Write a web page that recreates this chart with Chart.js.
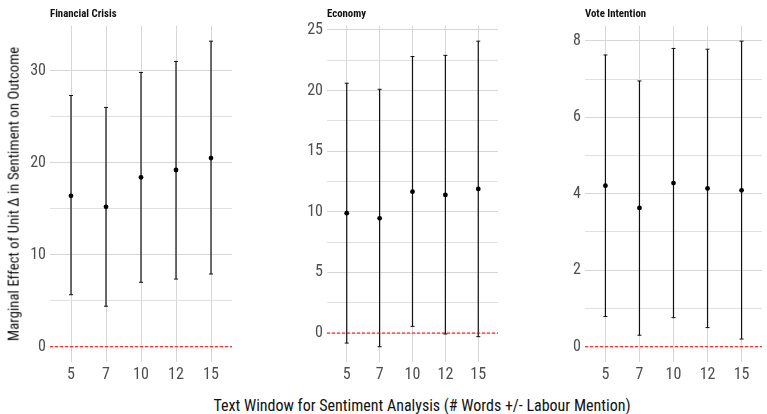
<!DOCTYPE html>
<html>
<head>
<meta charset="utf-8">
<script src="https://cdn.jsdelivr.net/npm/chart.js@4/dist/chart.umd.min.js"></script>
<style>
  html, body { margin: 0; padding: 0; background: #fff; }
  body { width: 767px; height: 414px; position: relative; overflow: hidden;
         font-family: 'Roboto Condensed', 'Liberation Sans Narrow', Roboto, sans-serif; }
  canvas.panel { position: absolute; top: 0; }
  .ytitle { position: absolute; left: 14px; top: 194px; width: max-content;
            transform: translate(-50%, -50%) rotate(-90deg);
            white-space: nowrap; font-size: 14.8px; line-height: 1; color: #111; }
  .xtitle { position: absolute; left: 422px; top: 406px; width: max-content;
            transform: translate(-50%, -50%);
            white-space: nowrap; font-size: 16px; line-height: 1; color: #111; }
</style>
</head>
<body>
<canvas id="p0" class="panel" width="215" height="385" style="left:22px"></canvas>
<canvas id="p1" class="panel" width="203" height="385" style="left:300px"></canvas>
<canvas id="p2" class="panel" width="207" height="385" style="left:560px"></canvas>
<div class="ytitle">Marginal Effect of Unit Δ in Sentiment on Outcome</div>
<div class="xtitle">Text Window for Sentiment Analysis (# Words +/- Labour Mention)</div>
<script>
// Text window sizes (words either side of a Labour mention)
const windows = ['5', '7', '10', '12', '15'];

// Outcome facets
const outcomes = ['Financial Crisis', 'Economy', 'Vote Intention'];

// Point estimates per outcome
const estFinancial = [16.4, 15.2, 18.4, 19.2, 20.5];
const estEconomy   = [9.88, 9.46, 11.66, 11.39, 11.88];
const estVote      = [4.21, 3.63, 4.28, 4.14, 4.09];

// Lower confidence bounds
const lowFinancial = [5.65, 4.4, 7.0, 7.35, 7.9];
const lowEconomy   = [-0.83, -1.13, 0.55, -0.08, -0.3];
const lowVote      = [0.79, 0.30, 0.76, 0.50, 0.20];

// Upper confidence bounds
const highFinancial = [27.3, 26.0, 29.8, 31.0, 33.2];
const highEconomy   = [20.6, 20.1, 22.8, 22.9, 24.07];
const highVote      = [7.63, 6.95, 7.80, 7.78, 7.99];

// Y axis ranges, grid steps and labelled steps per facet
const yMins = [-1.66, -2.39, -0.40];
const yMaxs = [34.86, 25.33, 8.39];
const yGridSteps = [5, 2.5, 1];
const yLabelSteps = [10, 5, 2];

// Reference line value and colour
const refValue = 0;
const refColor = '#ff0000';

const estimates = [estFinancial, estEconomy, estVote];
const lows = [lowFinancial, lowEconomy, lowVote];
const highs = [highFinancial, highEconomy, highVote];

const axisWidths = [28, 27, 25];
const FONT = "'Roboto Condensed', 'Liberation Sans Narrow', Roboto, sans-serif";

outcomes.forEach((name, k) => {
  const est = estimates[k], lo = lows[k], hi = highs[k];
  const labelStep = yLabelSteps[k];
  const isMajor = v => Math.abs(v / labelStep - Math.round(v / labelStep)) < 1e-6;
  new Chart(document.getElementById('p' + k), {
    type: 'scatter',
    data: {
      datasets: [
        {
          // dashed reference line spanning the full x range
          type: 'line',
          data: [{ x: -0.6, y: refValue }, { x: 4.6, y: refValue }],
          borderColor: refColor,
          borderWidth: 1.1,
          borderDash: [3, 2],
          pointRadius: 0,
          fill: false,
          order: 0
        },
        {
          type: 'bar',
          data: windows.map((w, i) => ({ x: i, y: [lo[i], hi[i]] })),
          backgroundColor: '#111',
          borderWidth: 0,
          barThickness: 1.2,
          inflateAmount: 0,
          grouped: false,
          order: 3
        },
        {
          data: windows.map((w, i) => ({ x: i, y: lo[i] })),
          pointStyle: 'line', pointRadius: 2, borderColor: '#111', borderWidth: 1, order: 2
        },
        {
          data: windows.map((w, i) => ({ x: i, y: hi[i] })),
          pointStyle: 'line', pointRadius: 2, borderColor: '#111', borderWidth: 1, order: 2
        },
        {
          data: windows.map((w, i) => ({ x: i, y: est[i] })),
          pointRadius: 2.4, backgroundColor: '#000', borderWidth: 0, order: 1
        }
      ]
    },
    options: {
      responsive: false,
      devicePixelRatio: 1,
      animation: false,
      layout: { padding: 0 },
      plugins: {
        legend: { display: false },
        tooltip: { enabled: false },
        title: {
          display: true, text: name, align: 'start', fullSize: false, color: '#111',
          font: { family: FONT, size: 10.8, weight: 'bold', lineHeight: 1.1 },
          padding: { top: 8, bottom: 6 }
        }
      },
      scales: {
        x: {
          type: 'linear', min: -0.6, max: 4.6, offset: false,
          afterFit: s => { s.height = 23; },
          border: { display: false },
          grid: { color: '#d6d6d6', lineWidth: 1, drawTicks: false, offset: false },
          ticks: {
            stepSize: 1, includeBounds: false, autoSkip: false, maxRotation: 0,
            padding: 3, color: '#4d4d4d', font: { family: FONT, size: 16 },
            callback: v => (windows[v] !== undefined ? windows[v] : '')
          }
        },
        y: {
          type: 'linear', min: yMins[k], max: yMaxs[k],
          afterFit: s => { s.width = axisWidths[k]; },
          border: { display: false },
          grid: {
            drawTicks: false, lineWidth: 1,
            color: c => (isMajor(c.tick ? c.tick.value : 0) ? '#d6d6d6' : '#e0e0e0')
          },
          ticks: {
            stepSize: yGridSteps[k], includeBounds: false, padding: 4,
            color: '#4d4d4d', font: { family: FONT, size: 16 },
            callback: v => (isMajor(v) ? String(Math.round(v)) : '')
          }
        }
      }
    }
  });
});
</script>
</body>
</html>
